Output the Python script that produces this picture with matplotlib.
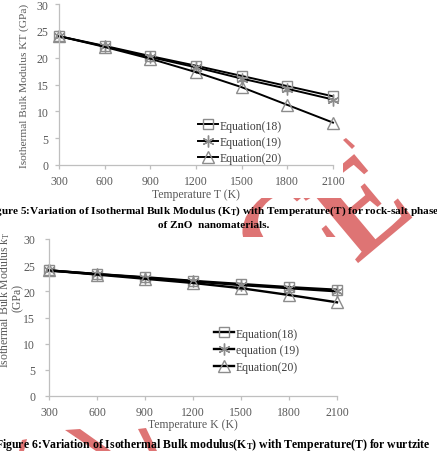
import matplotlib
matplotlib.use("Agg")
import matplotlib.pyplot as plt
from matplotlib.patches import Polygon, Rectangle, PathPatch
from matplotlib.textpath import TextPath
from matplotlib.font_manager import FontProperties
from matplotlib.transforms import Affine2D

# ---------------- data ----------------
temps = [300, 600, 900, 1200, 1500, 1800, 2100]
rs_eq18 = [24.0, 22.2, 20.3, 18.5, 16.6, 14.7, 12.8]
rs_eq19 = [24.0, 22.1, 20.1, 18.2, 16.1, 14.2, 12.2]
rs_eq20 = [24.0, 22.0, 19.8, 17.3, 14.5, 11.2, 7.9]
wz_eq18 = [24.0, 23.3, 22.7, 22.0, 21.4, 20.8, 20.3]
wz_eq19 = [24.0, 23.3, 22.6, 21.9, 21.2, 20.6, 20.0]
wz_eq20 = [24.0, 23.2, 22.4, 21.6, 20.6, 19.3, 17.9]
yticks = [0, 5, 10, 15, 20, 25, 30]
labels1 = ["Equation(18)", "Equation(19)", "Equation(20)"]
labels2 = ["Equation(18)", "equation (19)", "Equation(20)"]

plt.rcParams["font.family"] = ["Liberation Serif", "DejaVu Serif"]
plt.rcParams["mathtext.fontset"] = "custom"
plt.rcParams["mathtext.rm"] = "Liberation Serif"
plt.rcParams["mathtext.it"] = "Liberation Serif:italic"
plt.rcParams["mathtext.bf"] = "Liberation Serif:bold"

W, H = 437, 452
fig = plt.figure(figsize=(W / 100, H / 100), dpi=100)

def fx(x):
    return x / W

def fy(y):
    return 1 - y / H

RED = "#de7474"
GRAY_AX = "#bfbfbf"
GRAY_TXT = "#595959"
MK = "#8c8c8c"

# ---------------- watermark (behind chart images) ----------------
wm_prop = FontProperties(family="Liberation Serif", weight="bold")

def wm_letter(ch, cx, cy, width, height, angle):
    tp = TextPath((0, 0), ch, size=100, prop=wm_prop)
    ext = tp.get_extents()
    ccx = (ext.x0 + ext.x1) / 2
    ccy = (ext.y0 + ext.y1) / 2
    tr = (Affine2D().translate(-ccx, -ccy)
          .scale(width / ext.width, height / ext.height).rotate_deg(angle)
          .translate(cx, H - cy).scale(1 / W, 1 / H))
    path = tr.transform_path(tp)
    fig.patches.append(PathPatch(path, transform=fig.transFigure, facecolor=RED,
                                 edgecolor="none", zorder=0))

wm_letter("E", 358, 208, 72, 86, 40)
wm_letter("C", 285, 238, 78, 90, 40)
for pts in ([(22, 441), (27, 440), (24, 452), (19, 452)],
            [(65, 431), (80, 430), (111, 452), (96, 452)],
            [(138, 430), (146, 429), (157, 452), (149, 452)],
            [(343, 141), (346, 139), (355, 147), (352, 150)]):
    fig.patches.append(Polygon([(fx(a), fy(b)) for a, b in pts], closed=True,
                               transform=fig.transFigure, facecolor=RED,
                               edgecolor="none", zorder=0))
# white chart-image backgrounds
for (x0, y0, x1, y1) in ((0, 0, 343, 199), (0, 238, 343, 429)):
    fig.patches.append(Rectangle((fx(x0), fy(y1)), fx(x1) - fx(x0), fy(y0) - fy(y1),
                                 transform=fig.transFigure, facecolor="white",
                                 edgecolor="none", zorder=0.5))


def make_axes(l, t, r, b):
    ax = fig.add_axes([fx(l), fy(b), fx(r) - fx(l), fy(t) - fy(b)], zorder=2)
    ax.set_facecolor("none")
    return ax


def style(ax, ypad):
    ax.set_xlim(300, 2100)
    ax.set_ylim(0, 30)
    ax.set_xticks(temps)
    ax.set_yticks(yticks)
    for s in ("top", "right"):
        ax.spines[s].set_visible(False)
    for s in ("left", "bottom"):
        ax.spines[s].set_color(GRAY_AX)
        ax.spines[s].set_linewidth(0.9)
    ax.tick_params(axis="both", direction="out", length=3, width=0.9,
                   color=GRAY_AX, labelcolor=GRAY_TXT, labelsize=8.5)
    ax.tick_params(axis="x", pad=4)
    ax.tick_params(axis="y", pad=ypad)


def plot_series(ax, s18, s19, s20, labels, lw):
    ax.plot(temps, s18, color="black", lw=lw, marker="s", ms=7.5, mfc="none",
            mec=MK, mew=1.0, label=labels[0], clip_on=False)
    ax.plot(temps, s19, color="black", lw=lw, marker=(6, 2, 0), ms=8.5,
            mec=MK, mew=1.0, label=labels[1], clip_on=False)
    ax.plot(temps, s20, color="black", lw=lw, marker="^", ms=8.5, mfc="none",
            mec=MK, mew=1.0, label=labels[2], clip_on=False)


# ---------------- chart 1 ----------------
ax1 = make_axes(59, 5, 333, 166)
style(ax1, 4.5)
plot_series(ax1, rs_eq18, rs_eq19, rs_eq20, labels1, 1.4)
ax1.legend(loc="center left", bbox_to_anchor=(fx(198), fy(143)),
           bbox_transform=fig.transFigure, frameon=False, fontsize=8.5,
           handlelength=1.7, handletextpad=0.15, labelspacing=0.38,
           borderpad=0, borderaxespad=0, labelcolor="#404040")
fig.text(fx(24), fy(86), "Isothermal Bulk Modulus KT (GPa)", rotation=90,
         ha="center", va="center", fontsize=8.2, color=GRAY_TXT)
fig.text(fx(196), fy(195), "Temperature T (K)", ha="center", va="center",
         fontsize=8.5, color=GRAY_TXT)

# ---------------- chart 2 ----------------
ax2 = make_axes(49, 240, 337, 397)
style(ax2, 7)
plot_series(ax2, wz_eq18, wz_eq19, wz_eq20, labels2, 1.7)
ax2.legend(loc="center left", bbox_to_anchor=(fx(214), fy(351.5)),
           bbox_transform=fig.transFigure, frameon=False, fontsize=8.5,
           handlelength=1.7, handletextpad=0.15, labelspacing=0.42,
           borderpad=0, borderaxespad=0, labelcolor="#404040")
fig.text(fx(5), fy(300), r"Isothermal Bulk Modulus $\mathregular{k_T}$", rotation=90,
         ha="center", va="center", fontsize=8.5, color=GRAY_TXT)
fig.text(fx(18), fy(298), "(GPa)", rotation=90,
         ha="center", va="center", fontsize=8.5, color=GRAY_TXT)
fig.text(fx(193), fy(425), "Temperature K (K)", ha="center", va="center",
         fontsize=8.5, color=GRAY_TXT)

# ---------------- captions ----------------
fig.text(fx(213), fy(211),
         r"Figure 5:Variation of Isothermal Bulk Modulus ($\mathbf{K_T}$) with Temperature(T) for rock-salt phase",
         ha="center", va="center", fontsize=8.1, fontweight="bold", color="black", zorder=3)
fig.text(fx(214), fy(226), "of ZnO  nanomaterials.", ha="center", va="center",
         fontsize=8.1, fontweight="bold", color="black", zorder=3)
fig.text(fx(213), fy(445),
         r"Figure 6:Variation of Isothermal Bulk modulus($\mathbf{K_T}$) with Temperature(T) for wurtzite",
         ha="center", va="center", fontsize=8.45, fontweight="bold", color="black", zorder=3)

fig.savefig("out.png", dpi=100)
